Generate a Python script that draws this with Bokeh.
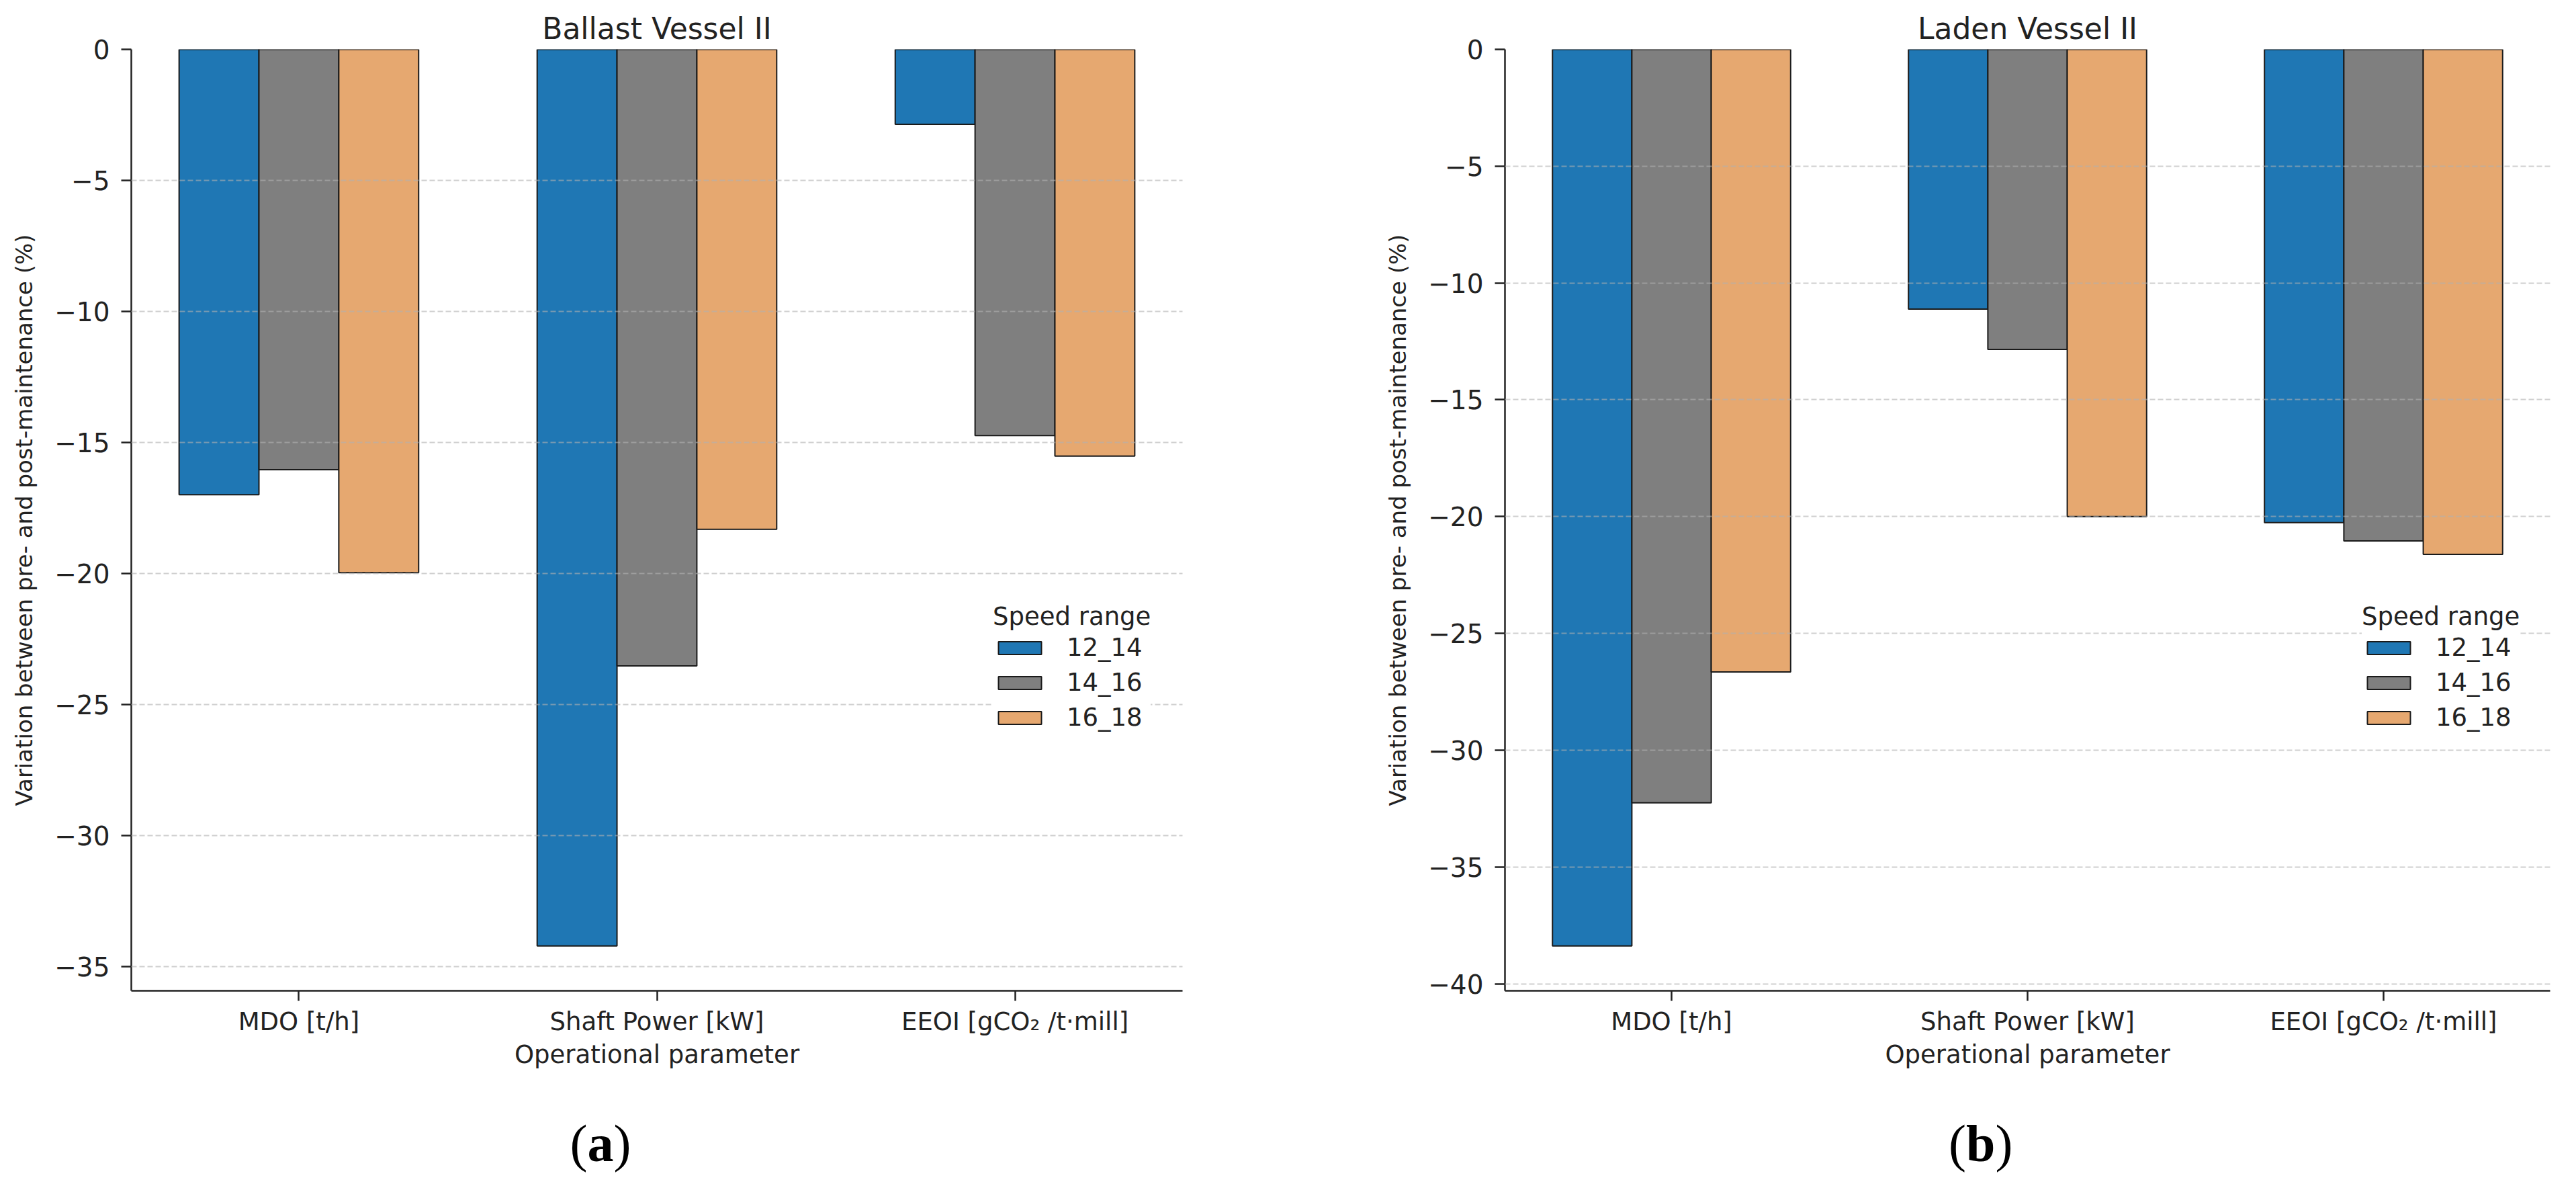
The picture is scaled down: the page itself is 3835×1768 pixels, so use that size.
import numpy as np
from bokeh.plotting import figure
from bokeh.models import Range1d, FixedTicker, CustomJSTickFormatter, Div
from bokeh.layouts import row, column
from bokeh.embed import file_html
from bokeh.resources import INLINE

# ---------------- data ----------------
categories = ["MDO [t/h]", "Shaft Power [kW]", "EEOI [gCO\u2082 /t\u00b7mill]"]
speed_ranges = ["12_14", "14_16", "16_18"]

ballast_12_14 = [-17.0, -34.22, -2.86]
ballast_14_16 = [-16.04, -23.53, -14.74]
ballast_16_18 = [-19.97, -18.32, -15.52]

laden_12_14 = [-38.38, -11.12, -20.26]
laden_14_16 = [-32.25, -12.84, -21.04]
laden_16_18 = [-26.65, -20.0, -21.62]

ballast_ticks = [0, -5, -10, -15, -20, -25, -30, -35]
laden_ticks = [0, -5, -10, -15, -20, -25, -30, -35, -40]

titles = ["Ballast Vessel II", "Laden Vessel II"]
captions = ["a", "b"]

colors = ["#1f77b4", "#7f7f7f", "#e6a870"]

# ---------------- style ----------------
BAR_W = 0.223
FONT = "DejaVu Sans"
TXT = "#222222"


def make_panel(series_list, ticks, title, width, border_right, legend_xy):
    n = len(categories)
    span = (n - 1) + 3 * BAR_W
    lo = -1.5 * BAR_W - 0.05 * span
    hi = (n - 1) + 1.5 * BAR_W + 0.05 * span
    ymin = min(min(s) for s in series_list) * 1.05

    p = figure(width=width, height=1614,
               x_range=Range1d(lo, hi), y_range=Range1d(ymin, 0),
               output_backend="svg", toolbar_location=None,
               min_border_left=195, min_border_right=border_right,
               min_border_top=73, min_border_bottom=140,
               title=title)
    p.outline_line_color = None
    p.background_fill_color = "white"
    p.border_fill_color = "white"

    p.title.align = "center"
    p.title.text_font = FONT
    p.title.text_font_style = "normal"
    p.title.text_font_size = "44px"
    p.title.text_color = TXT
    p.title.standoff = 12

    xs = np.arange(n)
    for j, s in enumerate(series_list):
        p.vbar(x=xs + (j - 1) * BAR_W, top=s, bottom=0, width=BAR_W,
               fill_color=colors[j], line_color="#1a1a1a", line_width=2,
               legend_label=speed_ranges[j])

    # axes
    p.yaxis.ticker = FixedTicker(ticks=ticks)
    p.yaxis.formatter = CustomJSTickFormatter(
        code="return tick < 0 ? '\\u2212' + Math.abs(tick) : String(tick);")
    p.xaxis.ticker = FixedTicker(ticks=list(range(n)))
    p.xaxis.major_label_overrides = {i: c for i, c in enumerate(categories)}

    for ax in (p.xaxis[0], p.yaxis[0]):
        ax.axis_line_color = TXT
        ax.axis_line_width = 2.5
        ax.major_tick_line_color = TXT
        ax.major_tick_line_width = 2.5
        ax.major_tick_out = 15
        ax.major_tick_in = 0
        ax.minor_tick_line_color = None
        ax.major_label_text_font = FONT
        ax.major_label_text_color = TXT
        ax.axis_label_text_font = FONT
        ax.axis_label_text_font_style = "normal"
        ax.axis_label_text_color = TXT

    p.yaxis.major_label_text_font_size = "39px"
    p.yaxis.major_label_standoff = 17
    p.yaxis.axis_label = "Variation between pre- and post-maintenance (%)"
    p.yaxis.axis_label_text_font_size = "34px"
    p.yaxis.axis_label_standoff = 22

    p.xaxis.major_label_text_font_size = "37px"
    p.xaxis.major_label_standoff = 9
    p.xaxis.axis_label = "Operational parameter"
    p.xaxis.axis_label_text_font_size = "37px"
    p.xaxis.axis_label_standoff = 3

    # grid
    p.xgrid.visible = False
    p.ygrid.ticker = FixedTicker(ticks=ticks)
    p.ygrid.grid_line_color = "#b0b0b0"
    p.ygrid.grid_line_alpha = 0.6
    p.ygrid.grid_line_width = 2
    p.ygrid.grid_line_dash = "8 4"
    p.ygrid.level = "guide"

    # legend
    lg = p.legend[0]
    lg.location = legend_xy
    lg.title = "Speed range"
    lg.title_text_font = FONT
    lg.title_text_font_size = "37px"
    lg.title_text_font_style = "normal"
    lg.title_text_color = TXT
    lg.title_standoff = 3
    lg.label_text_font = FONT
    lg.label_text_font_size = "37px"
    lg.label_text_color = TXT
    lg.glyph_width = 80
    lg.glyph_height = 24
    lg.label_standoff = 30
    lg.spacing = 9
    lg.padding = 15
    lg.border_line_color = None
    lg.background_fill_color = "white"
    lg.background_fill_alpha = 1.0
    return p


p1 = make_panel([ballast_12_14, ballast_14_16, ballast_16_18], ballast_ticks,
                titles[0], width=2045, border_right=285,
                legend_xy=(1283, 385))
p2 = make_panel([laden_12_14, laden_14_16, laden_16_18], laden_ticks,
                titles[1], width=1771, border_right=20,
                legend_xy=(1276, 385))

cap_style = ("font-family:'Liberation Serif','DejaVu Serif',serif;"
             "font-size:78px;line-height:1;color:#000;padding-top:44px;")
div_a = Div(text=f"<div style=\"{cap_style}text-align:center;width:1778px;\">(<b>{captions[0]}</b>)</div>",
            width=1778, height=130)
div_b = Div(text=f"<div style=\"{cap_style}text-align:left;padding-left:1108px;\">(<b>{captions[1]}</b>)</div>",
            width=2030, height=130)

layout = column(row(p1, p2), row(div_a, div_b))

with open("out.html", "w") as f:
    f.write(file_html(layout, INLINE))
